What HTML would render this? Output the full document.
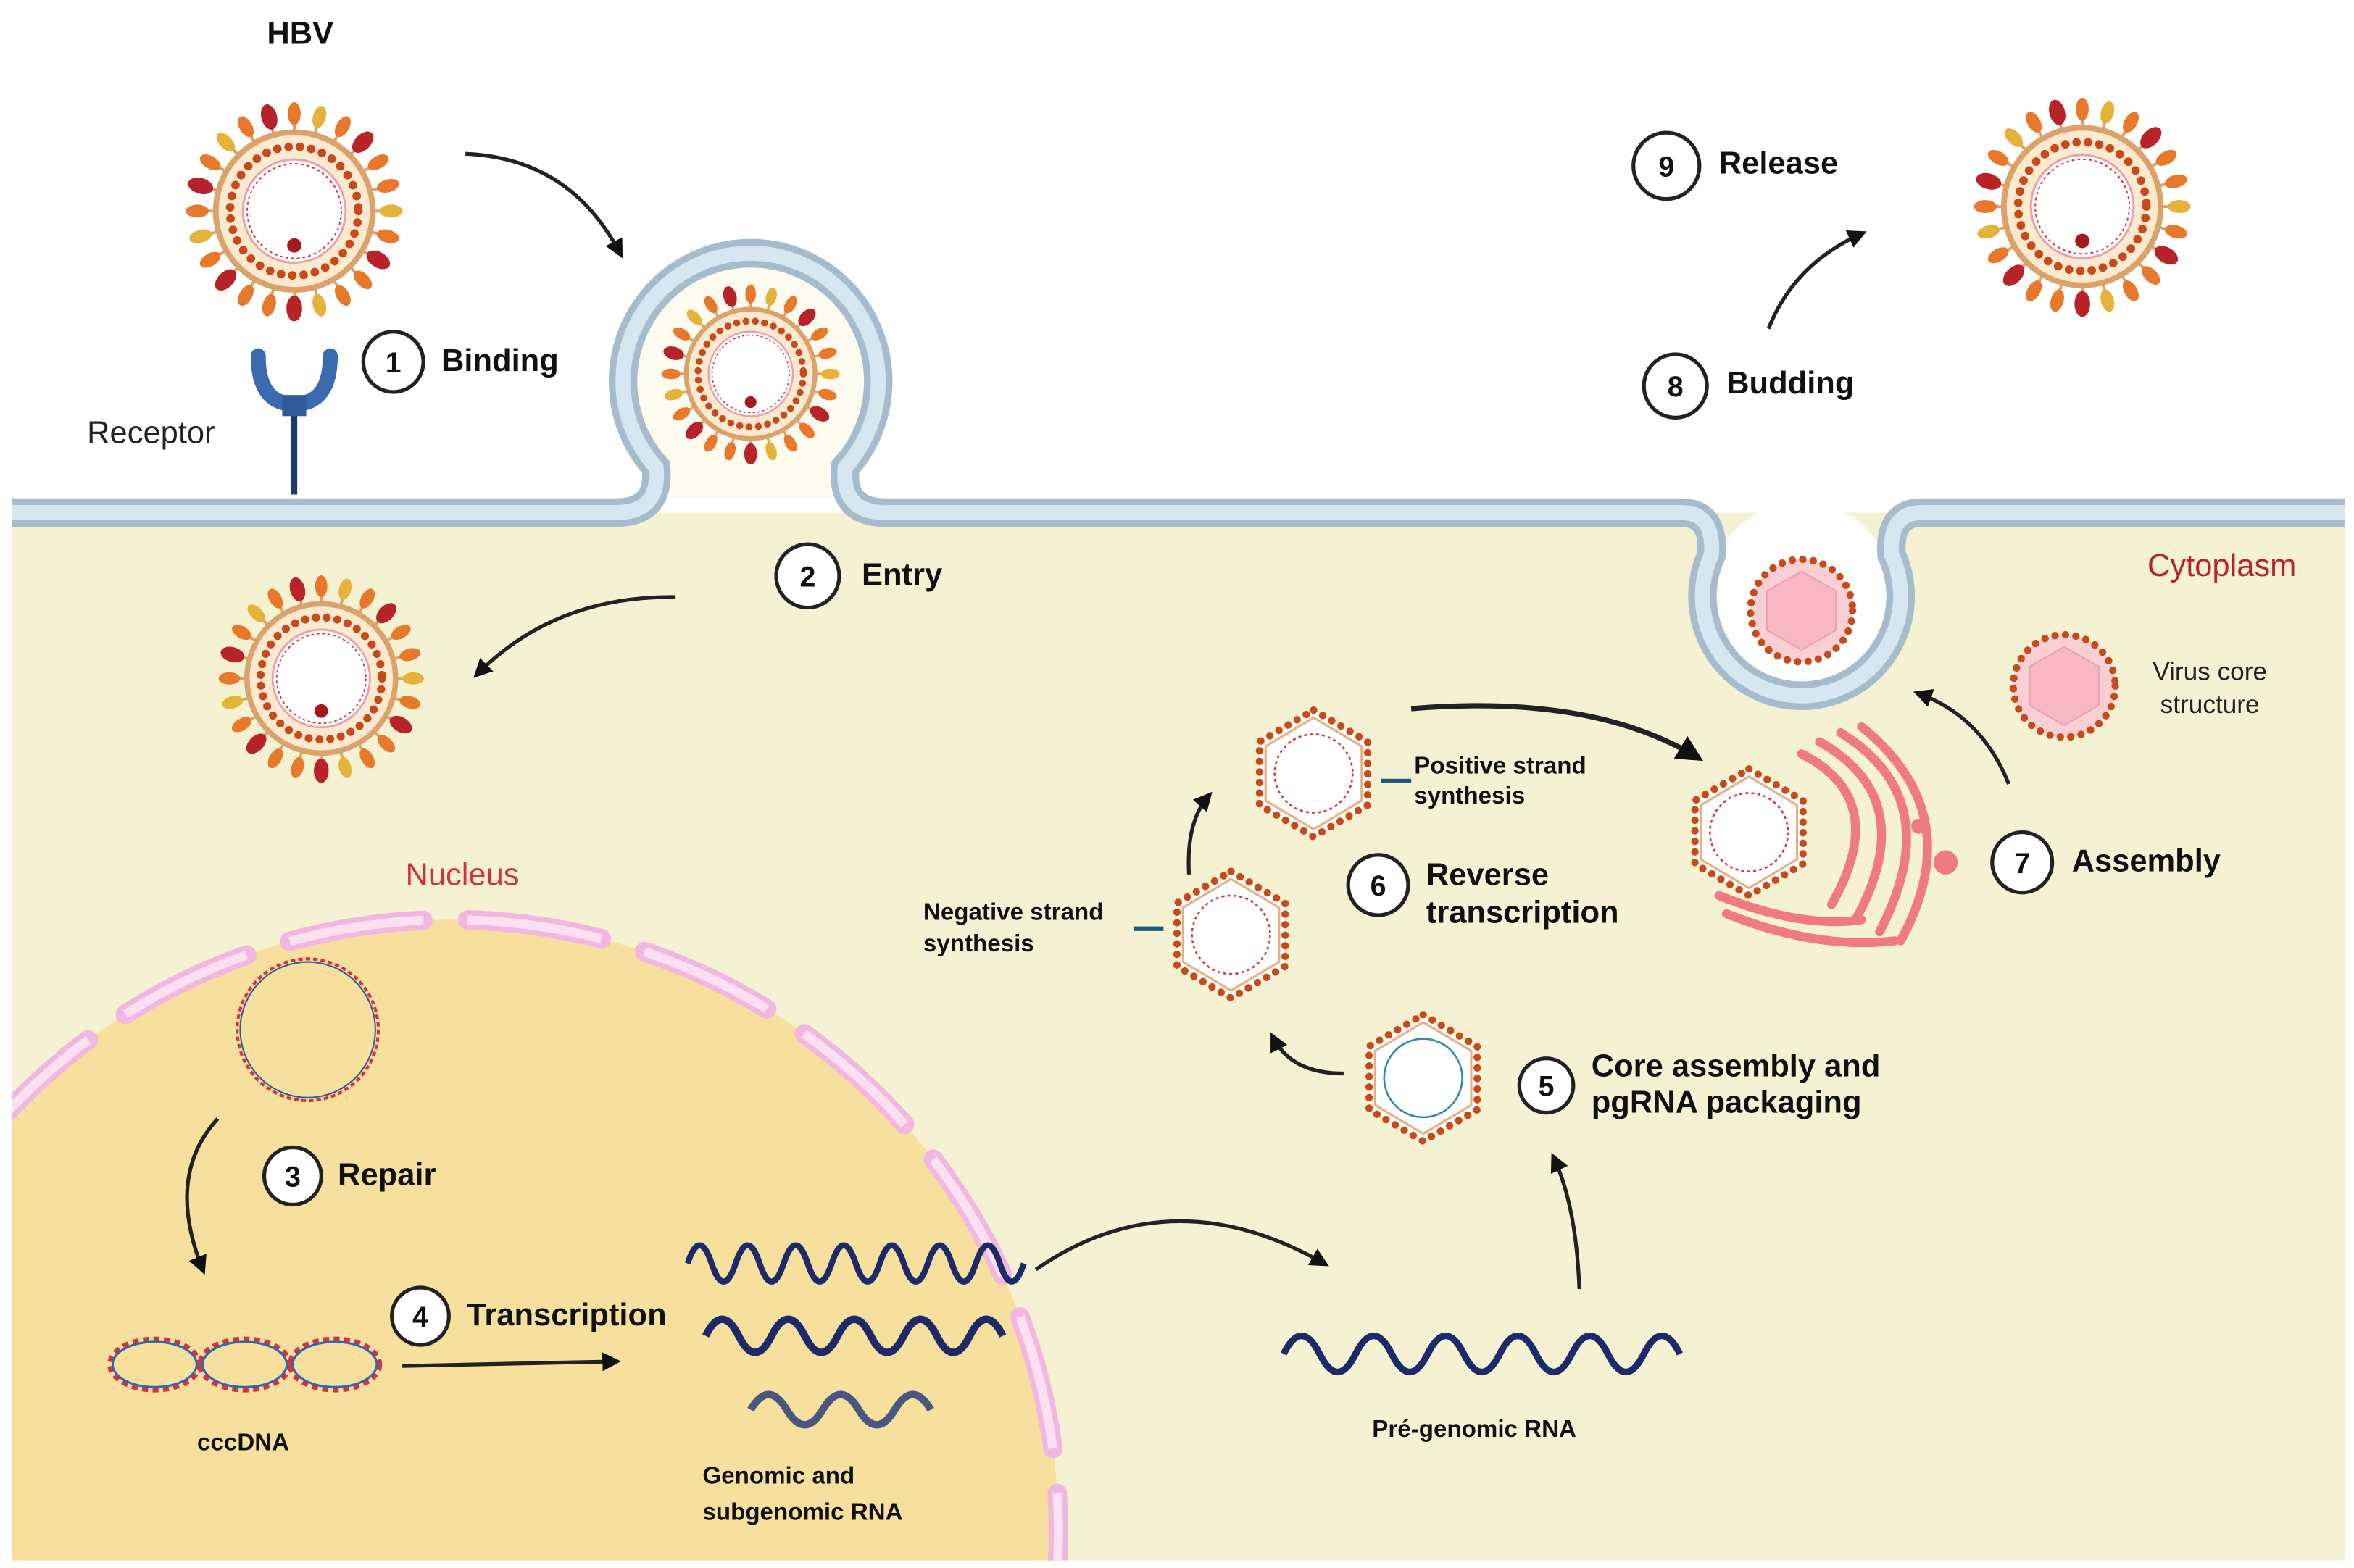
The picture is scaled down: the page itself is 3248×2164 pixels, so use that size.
<!DOCTYPE html>
<html><head><meta charset="utf-8"><style>
html,body{margin:0;padding:0;background:#fff;width:3248px;height:2164px;overflow:hidden}
svg{display:block;position:absolute;left:0;top:0}
text{font-family:"Liberation Sans",sans-serif}
.b{font-weight:bold;font-size:21px;fill:#111}
.n{font-weight:bold;font-size:19px;fill:#111;text-anchor:middle}
.s{font-weight:bold;font-size:16px;fill:#111}
</style></head><body>
<svg width="3248" height="2164" viewBox="0 0 1568 1040" preserveAspectRatio="none" xmlns="http://www.w3.org/2000/svg">
<defs>
<marker id="ah" viewBox="0 0 10 10" refX="7" refY="5" markerWidth="5" markerHeight="5" orient="auto"><path d="M0,0 L10,5 L0,10 z" fill="#111"/></marker>
<g id="spO"><line x1="0" y1="-55" x2="0" y2="-63" stroke="#d9a36b" stroke-width="2"/><ellipse cx="0" cy="-68" rx="4.5" ry="8" fill="#e8782a"/></g>
<g id="spR"><line x1="0" y1="-55" x2="0" y2="-63" stroke="#d9a36b" stroke-width="2"/><ellipse cx="0" cy="-68" rx="5.5" ry="9" fill="#b8232a"/></g>
<g id="spY"><line x1="0" y1="-55" x2="0" y2="-63" stroke="#d9a36b" stroke-width="2"/><ellipse cx="0" cy="-68" rx="4.5" ry="8" fill="#e5b33a"/></g>
<g id="virus">
<use href="#spO" transform="rotate(0)"/><use href="#spY" transform="rotate(15)"/><use href="#spO" transform="rotate(30)"/><use href="#spR" transform="rotate(45)"/><use href="#spO" transform="rotate(60)"/><use href="#spO" transform="rotate(75)"/><use href="#spY" transform="rotate(90)"/><use href="#spO" transform="rotate(105)"/><use href="#spR" transform="rotate(120)"/><use href="#spO" transform="rotate(135)"/><use href="#spO" transform="rotate(150)"/><use href="#spY" transform="rotate(165)"/><use href="#spR" transform="rotate(180)"/><use href="#spO" transform="rotate(195)"/><use href="#spO" transform="rotate(210)"/><use href="#spR" transform="rotate(225)"/><use href="#spO" transform="rotate(240)"/><use href="#spY" transform="rotate(255)"/><use href="#spO" transform="rotate(270)"/><use href="#spR" transform="rotate(285)"/><use href="#spO" transform="rotate(300)"/><use href="#spY" transform="rotate(315)"/><use href="#spO" transform="rotate(330)"/><use href="#spR" transform="rotate(345)"/>
<circle r="55" fill="#fbe9d0" stroke="#d9a36b" stroke-width="4"/>
<circle r="45" fill="none" stroke="#c84a1a" stroke-width="6" stroke-dasharray="0 8" stroke-linecap="round"/>
<circle r="36" fill="#fff" stroke="#e9a0a8" stroke-width="1.5"/>
<circle r="33" fill="none" stroke="#d93040" stroke-width="1" stroke-dasharray="2 2"/>
<circle cx="0" cy="24" r="5" fill="#a8161e"/>
</g>
<g id="hex">
<polygon points="0,-42 36,-21 36,21 0,42 -36,21 -36,-21" fill="#fff" stroke="#c84a1a" stroke-width="5" stroke-dasharray="0 7" stroke-linecap="round"/>
<polygon points="0,-37 32,-18 32,18 0,37 -32,18 -32,-18" fill="none" stroke="#e8b080" stroke-width="1.5"/>
<circle r="26" fill="none" stroke="#d93040" stroke-width="1.2" stroke-dasharray="2 2"/>
</g>
<g id="pinkcore">
<circle r="34" fill="#f8d0d4" stroke="#c84a1a" stroke-width="5" stroke-dasharray="0 7" stroke-linecap="round"/>
<polygon points="0,-26 23,-13 23,13 0,26 -23,13 -23,-13" fill="#f7b8c4" stroke="#eaa0b0" stroke-width="1"/>
</g>
<clipPath id="cyt"><rect x="8" y="340" width="1554" height="695"/></clipPath>
</defs>

<rect x="8" y="340" width="1554" height="695" fill="#f5f2d4"/>
<g clip-path="url(#cyt)">
<circle cx="300" cy="1015" r="405" fill="#f7df9e"/>
<circle cx="300" cy="1015" r="405" fill="none" stroke="#f0b8e0" stroke-width="13" stroke-dasharray="90 30" stroke-linecap="round"/>
<circle cx="300" cy="1015" r="405" fill="none" stroke="#fbe0f2" stroke-width="6" stroke-dasharray="90 30"/>
</g>
<circle cx="1200" cy="395" r="62" fill="#fff"/>
<path d="M430,330 L430,300 A85,85 0 1 1 570,300 L570,330 Z" fill="#fdfaf0"/>

<path d="M8,340 H410 Q440,340 437,310 A85,85 0 1 1 563,310 Q560,340 590,340 H1120 Q1142,340 1140,368 A66,66 0 1 0 1260,368 Q1258,340 1280,340 H1562" fill="none" stroke="#a6bccd" stroke-width="19"/>
<path d="M8,340 H410 Q440,340 437,310 A85,85 0 1 1 563,310 Q560,340 590,340 H1120 Q1142,340 1140,368 A66,66 0 1 0 1260,368 Q1258,340 1280,340 H1562" fill="none" stroke="#d6e7f1" stroke-width="10"/>

<line x1="196" y1="270" x2="196" y2="328" stroke="#1e3a6a" stroke-width="4"/>
<path d="M172,236 Q172,268 196,268 Q220,268 220,236" fill="none" stroke="#3a6ab0" stroke-width="10" stroke-linecap="round"/>
<rect x="188" y="262" width="16" height="14" fill="#2d5a9a"/>
<text x="58" y="294" font-size="21" fill="#222">Receptor</text>

<text x="200" y="29" class="b" text-anchor="middle">HBV</text>
<use href="#virus" transform="translate(196,140) scale(0.95)"/>
<use href="#virus" transform="translate(500,248) scale(0.78)"/>
<use href="#virus" transform="translate(214,450) scale(0.9)"/>
<use href="#virus" transform="translate(1387,137) scale(0.95)"/>

<g fill="#fff" stroke="#222" stroke-width="2.5">
<circle cx="262" cy="240" r="20"/><circle cx="538" cy="382" r="21"/><circle cx="195" cy="780" r="19"/><circle cx="280" cy="873" r="19"/><circle cx="1030" cy="720" r="18"/><circle cx="918" cy="587" r="20"/><circle cx="1347" cy="572" r="20"/><circle cx="1116" cy="256" r="21"/><circle cx="1110" cy="110" r="22"/>
</g>
<text x="262" y="247" class="n">1</text><text x="538" y="389" class="n">2</text><text x="195" y="787" class="n">3</text><text x="280" y="880" class="n">4</text><text x="1030" y="727" class="n">5</text><text x="918" y="594" class="n">6</text><text x="1347" y="579" class="n">7</text><text x="1116" y="263" class="n">8</text><text x="1110" y="117" class="n">9</text>
<text x="294" y="246" class="b">Binding</text>
<text x="574" y="388" class="b">Entry</text>
<text x="225" y="786" class="b" font-size="19">Repair</text>
<text x="311" y="879" class="b" font-size="20">Transcription</text>
<text x="1060" y="714" class="b" font-size="20">Core assembly and</text>
<text x="1060" y="738" class="b" font-size="20">pgRNA packaging</text>
<text x="950" y="587" class="b" font-size="20">Reverse</text>
<text x="950" y="612" class="b" font-size="20">transcription</text>
<text x="1380" y="578" class="b">Assembly</text>
<text x="1150" y="261" class="b">Budding</text>
<text x="1145" y="115" class="b">Release</text>
<text x="308" y="587" font-size="21" fill="#d8303a" text-anchor="middle">Nucleus</text>
<text x="1480" y="382" font-size="21" fill="#b8232a" text-anchor="middle">Cytoplasm</text>
<text x="162" y="962" class="s" font-size="18" text-anchor="middle">cccDNA</text>
<text x="468" y="984" class="s" font-size="18">Genomic and</text>
<text x="468" y="1008" class="s" font-size="18">subgenomic RNA</text>
<text x="982" y="953" class="s" font-size="18" text-anchor="middle">Pré-genomic RNA</text>
<text x="615" y="610" class="s">Negative strand</text>
<text x="615" y="631" class="s">synthesis</text>
<text x="942" y="513" class="s">Positive strand</text>
<text x="942" y="533" class="s">synthesis</text>
<text x="1472" y="451" font-size="17" fill="#222" text-anchor="middle">Virus core</text>
<text x="1472" y="473" font-size="17" fill="#222" text-anchor="middle">structure</text>

<circle cx="205" cy="683" r="47" fill="none" stroke="#d93040" stroke-width="2" stroke-dasharray="3 2"/>
<circle cx="205" cy="683" r="45" fill="none" stroke="#2a5aa0" stroke-width="1"/>
<g fill="none" stroke-width="3">
<ellipse cx="103" cy="905" rx="30" ry="17" stroke="#d93040" stroke-dasharray="4 3"/><ellipse cx="163" cy="905" rx="30" ry="17" stroke="#d93040" stroke-dasharray="4 3"/><ellipse cx="223" cy="905" rx="30" ry="17" stroke="#d93040" stroke-dasharray="4 3"/>
<ellipse cx="103" cy="905" rx="28" ry="15" stroke="#2a6ab0" stroke-width="1.5"/><ellipse cx="163" cy="905" rx="28" ry="15" stroke="#2a6ab0" stroke-width="1.5"/><ellipse cx="223" cy="905" rx="28" ry="15" stroke="#2a6ab0" stroke-width="1.5"/>
</g>

<path d="M458,838 q8,-24 16,0 t16,0 t16,0 t16,0 t16,0 t16,0 t16,0 t16,0 t16,0 t16,0 t16,0 t16,0 t16,0 t16,0" fill="none" stroke="#1c2a6a" stroke-width="4"/>
<path d="M470,886 q11,-22 22,0 t22,0 t22,0 t22,0 t22,0 t22,0 t22,0 t22,0 t22,0" fill="none" stroke="#1c2a6a" stroke-width="5"/>
<path d="M500,935 q12,-20 24,0 t24,0 t24,0 t24,0 t24,0" fill="none" stroke="#4a5580" stroke-width="5"/>
<path d="M855,898 q12,-24 24,0 t24,0 t24,0 t24,0 t24,0 t24,0 t24,0 t24,0 t24,0 t24,0 t24,0" fill="none" stroke="#1c2a6a" stroke-width="4.5"/>

<use href="#hex" transform="translate(948,715)"/>
<use href="#hex" transform="translate(820,620)"/>
<use href="#hex" transform="translate(875,513)"/>
<use href="#hex" transform="translate(1165,552)"/>
<circle cx="948" cy="715" r="26" fill="#fff" stroke="#2a8ab0" stroke-width="1.2"/>
<line x1="755" y1="616" x2="775" y2="616" stroke="#1a5a7a" stroke-width="3"/>
<line x1="920" y1="518" x2="940" y2="518" stroke="#1a5a7a" stroke-width="3"/>

<g fill="none" stroke="#ef7a80" stroke-width="6" stroke-linecap="round">
<path d="M1200,500 Q1260,530 1220,600"/><path d="M1212,492 Q1280,530 1236,610"/><path d="M1226,486 Q1298,530 1252,618"/><path d="M1240,482 Q1312,540 1266,624"/><path d="M1150,606 Q1210,630 1262,624"/><path d="M1145,594 Q1200,616 1240,610"/>
</g>
<circle cx="1296" cy="572" r="8" fill="#ef7a80"/><circle cx="1278" cy="548" r="5" fill="#ef7a80"/>

<use href="#pinkcore" transform="translate(1200,405)"/>
<use href="#pinkcore" transform="translate(1375,455)"/>

<g fill="none" stroke="#222" stroke-width="2.5" marker-end="url(#ah)">
<path d="M310,102 Q380,105 413,168"/>
<path d="M450,396 Q370,395 318,447"/>
<path d="M145,742 Q110,780 135,842"/>
<path d="M268,906 L410,903"/>
<path d="M690,842 Q780,780 882,838"/>
<path d="M1052,855 Q1050,800 1035,768"/>
<path d="M895,712 Q860,712 848,688"/>
<path d="M792,580 Q790,545 805,528"/>
<path d="M940,470 Q1060,460 1130,502" stroke-width="3.5"/>
<path d="M1338,520 Q1320,475 1278,460"/>
<path d="M1178,218 Q1195,175 1240,155"/>
</g>
</svg>
</body></html>
